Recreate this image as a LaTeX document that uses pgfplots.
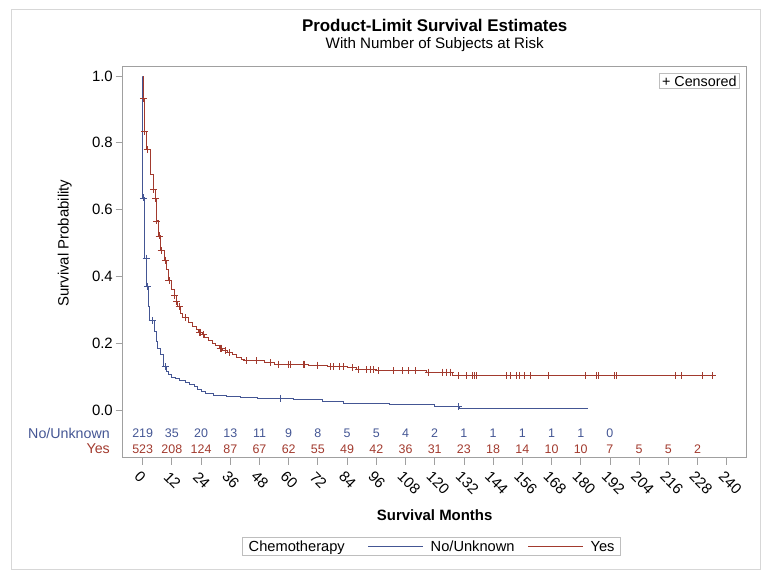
\documentclass[border=0pt]{standalone}
\usepackage{fontspec}
\setmainfont{Liberation Sans}
\usepackage{pgfplots}
\pgfplotsset{compat=1.18}
\definecolor{kmblue}{HTML}{445694}
\definecolor{kmred}{HTML}{A23A2E}
\definecolor{framegray}{RGB}{160,160,160}
\definecolor{bordergray}{RGB}{215,215,215}
\definecolor{legendgray}{RGB}{190,190,190}
\begin{document}
\begin{tikzpicture}[x=1bp,y=1bp]
\path[use as bounding box] (0,0) rectangle (772,579);
\draw[bordergray, line width=1bp] (11.5,9.5) rectangle (760.5,569.5);
\begin{axis}[
  at={(122.7bp,121.3bp)}, anchor=south west,
  scale only axis, width=624bp, height=391bp,
  xmin=-8.2, xmax=248.2, ymin=-0.143, ymax=1.028,
  axis line style={framegray, line width=0.8bp},
  tick style={framegray, line width=0.8bp},
  tick align=outside, major tick length=7bp,
  xtick pos=bottom, ytick pos=left,
  xtick={0,12,...,240},
  ytick={0,0.2,0.4,0.6,0.8,1.0},
  yticklabel style={/pgf/number format/fixed, /pgf/number format/fixed zerofill, /pgf/number format/precision=1, /pgf/number format/assume math mode=true},
  xticklabel style={/pgf/number format/assume math mode=true},
  ticklabel style={font=\fontsize{15}{18}\selectfont, text=black},
  yticklabel style={anchor=east, inner sep=0pt, xshift=-2.7bp},
  xticklabel style={inner sep=0pt, anchor=west, xshift=-5.5bp, yshift=-9.5bp, rotate=-45},
  xlabel={\textbf{Survival Months}},
  xlabel style={at={(axis description cs:0.5,0)}, anchor=center, yshift=-57bp, font=\fontsize{15}{18}\selectfont},
  ylabel={Survival Probability},
  ylabel style={at={(axis description cs:-0.093,0.549)}, anchor=center, font=\fontsize{15}{18}\selectfont},
  title={{\fontsize{17}{20}\selectfont\bfseries Product-Limit Survival Estimates}\\With Number of Subjects at Risk},
  title style={at={(axis description cs:0.5,1)}, anchor=south, align=center, inner sep=0pt, yshift=9.2bp,
    font=\fontsize{15.2}{16.6}\selectfont},
  legend image code/.code={\draw[#1, line width=1bp] (0bp,0bp) -- (55bp,0bp);},
  legend style={draw=legendgray, line width=0.8bp, font=\fontsize{14.7}{17}\selectfont, legend columns=-1,
    at={(axis description cs:0.495,-0.228)}, anchor=center, inner xsep=4bp, inner ysep=1bp},
  clip=false,
]
% Kaplan-Meier curves
\addplot[kmblue, line width=1bp, const plot, forget plot] coordinates {
(0,1) (0.1,0.635) (0.7,0.455) (1.6,0.370) (2.3,0.309) (3.0,0.267) (4.8,0.234) (5.5,0.205)
(6.3,0.185) (7.2,0.165) (8.5,0.130) (9.9,0.115) (10.8,0.105) (11.9,0.098) (13.5,0.093)
(15.3,0.088) (17.5,0.082) (19.4,0.075) (21.5,0.070) (22.5,0.062) (24.0,0.055) (26.0,0.050)
(29.0,0.044) (34.5,0.040) (40.0,0.037) (47.0,0.035) (62.0,0.030) (74.0,0.025) (82.5,0.020)
(101.6,0.015) (120,0.010) (130,0.005) (183,0.005)};
\addplot[kmred, line width=1bp, const plot, forget plot] coordinates {
(0,1) (0.2,0.933) (0.6,0.833) (1.6,0.78) (3.3,0.706) (4.4,0.661) (5.1,0.634) (5.6,0.566)
(6.6,0.521) (7.4,0.477) (8.8,0.449) (9.9,0.421) (10.5,0.387) (11.9,0.360) (12.9,0.342)
(13.8,0.324) (14.5,0.310) (15.5,0.290) (16.5,0.276) (18.7,0.262) (20.5,0.250) (22.0,0.240)
(23.0,0.232) (24.5,0.226) (25.6,0.218) (27.0,0.208) (28.5,0.200) (30.0,0.192) (31.5,0.185)
(33.0,0.178) (35.0,0.172) (37.0,0.165) (38.5,0.158) (40.5,0.152) (42.0,0.147) (50.0,0.142)
(54.0,0.137) (68.0,0.134) (76.0,0.130) (84.0,0.126) (88.0,0.121) (96.0,0.118) (116.7,0.113)
(127.5,0.103) (235.6,0.103)};
% censored observations
\addplot[kmblue, only marks, mark=+, mark size=3.5bp, line width=0.8bp, forget plot] coordinates {
(0.3,0.635) (1.4,0.455) (2.1,0.370) (3.9,0.267) (9.2,0.130) (56.4,0.035) (129.6,0.010)};
\addplot[kmred, only marks, mark=+, mark size=3.5bp, line width=0.8bp, forget plot] coordinates {
(0.3,0.933) (0.8,0.833) (1.8,0.78) (4.6,0.661) (5.3,0.634) (5.8,0.566) (6.8,0.521) (7.6,0.477)
(9.2,0.449) (10.8,0.387) (13.1,0.342) (14.0,0.324) (15.0,0.310) (17.4,0.276) (23.3,0.232)
(23.8,0.232) (24.8,0.226) (31.8,0.185) (32.4,0.185) (33.8,0.178) (35.6,0.172) (42.5,0.147)
(46.8,0.147) (52.3,0.142) (55.7,0.137) (59.8,0.137) (60.8,0.137) (66.0,0.137) (66.5,0.137)
(72.0,0.134) (77.3,0.130) (78.3,0.130) (80.8,0.130) (82.4,0.130) (86.0,0.126) (88.6,0.121)
(92.0,0.121) (93.4,0.121) (94.8,0.121) (96.8,0.118) (103,0.118) (106.9,0.118) (109.2,0.118)
(111.9,0.118) (117.4,0.113) (123.3,0.113) (124.9,0.113) (126.3,0.113) (129.7,0.103) (132.9,0.103)
(135.6,0.103) (136.3,0.103) (137,0.103) (149.3,0.103) (151,0.103) (153.7,0.103) (154.8,0.103)
(156.7,0.103) (159.2,0.103) (166.7,0.103) (181.8,0.103) (186.3,0.103) (187.3,0.103) (193.8,0.103)
(194.8,0.103) (218.8,0.103) (221.3,0.103) (230,0.103) (234.3,0.103)};
% numbers at risk
\addplot[kmblue, only marks, mark=none, forget plot, point meta=explicit symbolic, nodes near coords,
  nodes near coords style={anchor=center, font=\fontsize{12.5}{15}\selectfont, text=kmblue}] coordinates {
(0,-0.0698)[219] (12,-0.0698)[35] (24,-0.0698)[20] (36,-0.0698)[13] (48,-0.0698)[11] (60,-0.0698)[9]
(72,-0.0698)[8] (84,-0.0698)[5] (96,-0.0698)[5] (108,-0.0698)[4] (120,-0.0698)[2] (132,-0.0698)[1]
(144,-0.0698)[1] (156,-0.0698)[1] (168,-0.0698)[1] (180,-0.0698)[1] (192,-0.0698)[0]};
\addplot[kmred, only marks, mark=none, forget plot, point meta=explicit symbolic, nodes near coords,
  nodes near coords style={anchor=center, font=\fontsize{12.5}{15}\selectfont, text=kmred}] coordinates {
(0,-0.1168)[523] (12,-0.1168)[208] (24,-0.1168)[124] (36,-0.1168)[87] (48,-0.1168)[67] (60,-0.1168)[62]
(72,-0.1168)[55] (84,-0.1168)[49] (96,-0.1168)[42] (108,-0.1168)[36] (120,-0.1168)[31] (132,-0.1168)[23]
(144,-0.1168)[18] (156,-0.1168)[14] (168,-0.1168)[10] (180,-0.1168)[10] (192,-0.1168)[7] (204,-0.1168)[5]
(216,-0.1168)[5] (228,-0.1168)[2]};
\node[anchor=east, text=kmblue, font=\fontsize{14.3}{17}\selectfont, inner sep=0pt] at (axis cs:-8.2,-0.0698) [xshift=-12.7bp] {No/Unknown};
\node[anchor=east, text=kmred, font=\fontsize{14.3}{17}\selectfont, inner sep=0pt] at (axis cs:-8.2,-0.1168) [xshift=-12.7bp] {Yes};
% censored legend
\node[draw=legendgray, line width=0.8bp, anchor=north east, font=\fontsize{14.4}{17}\selectfont, inner xsep=3bp, inner ysep=2bp]
  at (rel axis cs:1,1) [xshift=-6.7bp, yshift=-6.7bp] {+ Censored};
% group legend
\addlegendimage{empty legend}\addlegendentry{Chemotherapy\hspace{21bp}\mbox{}}
\addlegendimage{kmblue}\addlegendentry{\hspace{5bp}No/Unknown\hspace{11bp}\mbox{}}
\addlegendimage{kmred}\addlegendentry{\hspace{5bp}Yes}
\end{axis}
\end{tikzpicture}
\end{document}
